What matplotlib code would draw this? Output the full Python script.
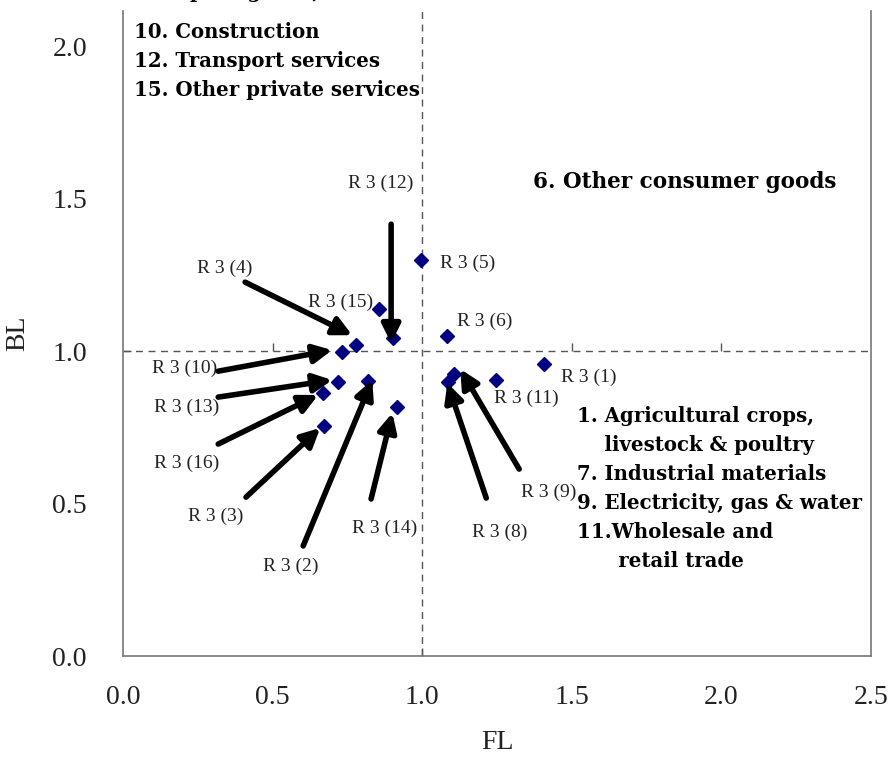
import matplotlib
matplotlib.use("Agg")
import matplotlib.pyplot as plt

# dane: FL (forward linkage) i BL (backward linkage) dla sektorów R3
sectors = ["1", "2", "3", "4", "5", "6", "8", "9", "10", "11", "12", "13", "14", "15", "16"]
fl = [1.406, 0.820, 0.673, 0.779, 0.995, 1.083, 1.085, 1.107, 0.732, 1.245, 0.902, 0.719, 0.915, 0.854, 0.668]
bl = [0.958, 0.902, 0.754, 1.020, 1.300, 1.051, 0.900, 0.925, 0.997, 0.905, 1.044, 0.900, 0.817, 1.137, 0.864]

x_ticks = [0.0, 0.5, 1.0, 1.5, 2.0, 2.5]
y_ticks = [0.0, 0.5, 1.0, 1.5, 2.0]

# etykiety bez strzałek: (sektor, x tekstu, y tekstu, wyrównanie)
plain_labels = [
    ("15", 0.726, 1.161, "center"),
    ("5", 1.060, 1.289, "left"),
    ("6", 1.117, 1.098, "left"),
    ("11", 1.348, 0.846, "center"),
    ("1", 1.555, 0.915, "center"),
]

# etykiety ze strzałkami: (sektor, pozycja tekstu, początek strzałki, grot strzałki)
arrow_labels = [
    ("12", (0.860, 1.551), (0.896, 1.416), (0.896, 1.026)),
    ("4", (0.341, 1.272), (0.408, 1.226), (0.766, 1.052)),
    ("10", (0.207, 0.944), (0.318, 0.934), (0.699, 1.003)),
    ("13", (0.211, 0.816), (0.318, 0.849), (0.699, 0.905)),
    ("16", (0.211, 0.633), (0.318, 0.695), (0.652, 0.856)),
    ("3", (0.311, 0.459), (0.411, 0.521), (0.659, 0.748)),
    ("2", (0.562, 0.295), (0.602, 0.361), (0.833, 0.905)),
    ("14", (0.873, 0.420), (0.829, 0.515), (0.900, 0.797)),
    ("8", (1.258, 0.407), (1.214, 0.518), (1.084, 0.895)),
    ("9", (1.421, 0.538), (1.324, 0.613), (1.127, 0.941)),
]

top_left_text = ["8. Capital goods,", "10. Construction", "12. Transport services", "15. Other private services"]
right_text = ["1. Agricultural crops,", "    livestock & poultry", "7. Industrial materials",
              "9. Electricity, gas & water", "11.Wholesale and", "      retail trade"]

label_font = "Liberation Serif"
bold_font = "DejaVu Serif"

fig = plt.figure(figsize=(8.89, 7.6), dpi=100)
ax = fig.add_axes([0.1384, 0.1368, 0.9798 - 0.1384, 0.9855 - 0.1368])

ax.set_xlim(0, 2.5)
ax.set_ylim(0, 2.115)

# linie przerywane na poziomie 1.0
ax.axvline(1.0, color="#555555", lw=1, ls=(0, (5, 4)), zorder=1)
ax.axhline(1.0, color="#555555", lw=1, ls=(0, (5, 4)), zorder=1)
ax.plot([0.5, 1.5, 2.0], [1.0, 1.0, 1.0], ls="none", marker=2, ms=6, color="#555555", mew=1)
ax.plot([1.0], [0.0], ls="none", marker=2, ms=6, color="#555555", mew=1, clip_on=False)
ax.plot([0.0], [1.0], ls="none", marker=1, ms=6, color="#555555", mew=1, clip_on=False)

ax.plot(fl, bl, ls="none", marker="D", ms=7, color="#000080", zorder=3)

for s, tx, ty, ha in plain_labels:
    ax.text(tx, ty, f"R 3 ({s})", ha=ha, va="center", fontsize=14, family=label_font, color="#222222")

for s, txt_pos, tail, head in arrow_labels:
    ax.text(txt_pos[0], txt_pos[1], f"R 3 ({s})", ha="center", va="center", fontsize=14,
            family=label_font, color="#222222")
    ax.annotate("", xy=head, xytext=tail,
                arrowprops=dict(arrowstyle="-|>,head_length=1.1,head_width=0.55",
                                lw=4, color="black", shrinkA=0, shrinkB=0))

# pierwsza linia jest ucięta przez górną krawędź, tak jak w oryginale
for i, line in enumerate(top_left_text):
    y = 2.177 if i == 0 else 2.14 - i * 0.095
    ax.text(0.035, y, line, ha="left", va="center", fontsize=14.2,
            family=bold_font, weight="bold", clip_on=False)

ax.text(1.37, 1.555, "6. Other consumer goods", ha="left", va="center", fontsize=15.5,
        family=bold_font, weight="bold")

for i, line in enumerate(right_text):
    ax.text(1.518, 0.787 - i * 0.095, line, ha="left", va="center", fontsize=14.2,
            family=bold_font, weight="bold")

ax.set_xticks(x_ticks)
ax.set_yticks(y_ticks)
ax.set_xticklabels([f"{v:.1f}" for v in x_ticks], family=label_font, fontsize=20, color="#222222")
ax.set_yticklabels([f"{v:.1f}" for v in y_ticks], family=label_font, fontsize=20, color="#222222")
ax.tick_params(axis="y", length=0, pad=26)
ax.tick_params(axis="x", length=0, pad=21)

ax.set_xlabel("FL", family=label_font, fontsize=20, color="#222222", labelpad=14)
ax.set_ylabel("BL", family=label_font, fontsize=20, color="#222222", labelpad=16)

ax.spines["top"].set_visible(False)
for side in ["left", "right", "bottom"]:
    ax.spines[side].set_color("#777777")
    ax.spines[side].set_linewidth(1.2)

fig.savefig("out.png", dpi=100)
